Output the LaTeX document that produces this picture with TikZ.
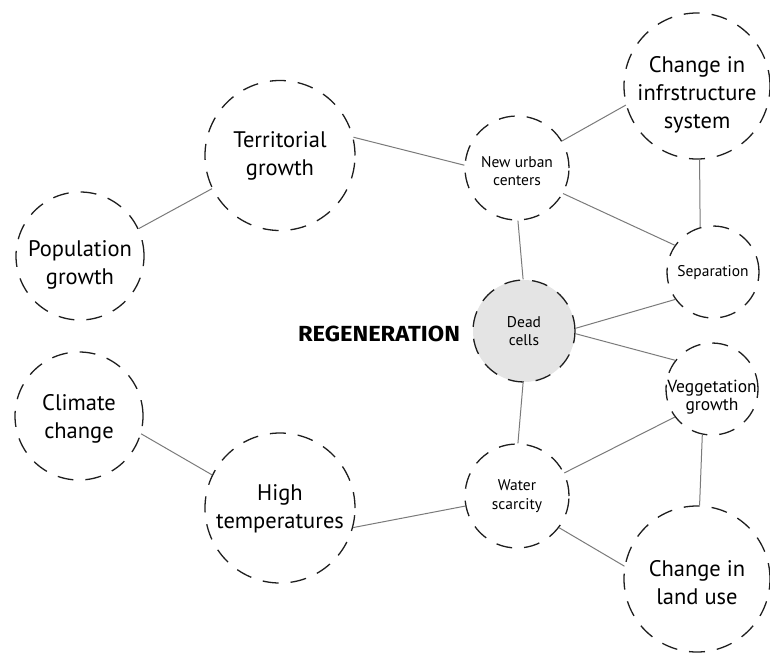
\documentclass[tikz,border=0pt]{standalone}
\usepackage{fontspec}
\setmainfont{PT Sans}
\newfontfamily\regfont{Fira Sans}
\definecolor{ring}{HTML}{1E1E1E}
\definecolor{conn}{HTML}{7A7A7A}
\definecolor{deadfill}{HTML}{E4E4E4}
\begin{document}
\begin{tikzpicture}[x=1pt,y=-1pt,
  ringbase/.style={circle,draw=ring,line width=1.3pt,dash pattern=on 16pt off 12pt,inner sep=0pt},
  bigc/.style={ringbase,minimum size=150pt},
  medc/.style={ringbase,minimum size=128pt},
  smallc/.style={ringbase,minimum size=104pt},
  tinyc/.style={ringbase,minimum size=92pt},
  deadc/.style={smallc,fill=deadfill,minimum size=102pt},
  bigt/.style={align=center,inner sep=0pt,font=\fontsize{22.5}{28}\selectfont},
  smallt/.style={align=center,inner sep=0pt,font=\fontsize{15.5}{18.5}\selectfont},
  link/.style={draw=conn,line width=1pt}]
\useasboundingbox (0,0) rectangle (770,656);
\node[bigc,label={[bigt]center:Territorial\\growth}] (terr) at (280,155.5) {};
\node[medc,label={[bigt,yshift=-9pt]center:Population\\growth}] (pop) at (80,256) {};
\node[smallc,label={[smallt,yshift=-3pt]center:New urban\\centers}] (nuc) at (517,168) {};
\node[bigc,minimum size=146pt,label={[bigt,yshift=-9pt]center:Change in\\infrstructure\\system}] (inf) at (697,86) {};
\node[tinyc,label={[smallt,yshift=-1pt]center:Separation}] (sep) at (713,272) {};
\node[deadc,label={[smallt]center:Dead\\cells}] (dead) at (524,331) {};
\node[tinyc,label={[smallt,font=\fontsize{17.5}{18}\selectfont,yshift=-8pt]center:Veggetation\\growth}] (veg) at (712,389) {};
\node[smallc,label={[smallt]center:Water\\scarcity}] (wat) at (517,496) {};
\node[bigc,minimum size=146pt,label={[bigt,yshift=-4pt]center:Change in\\land use}] (land) at (697,579) {};
\node[bigc,label={[bigt,yshift=-1pt]center:High\\temperatures}] (high) at (280,508) {};
\node[medc,label={[bigt,yshift=-3pt]center:Climate\\change}] (clim) at (79,416) {};
\node[inner sep=0pt] (regen) at (379,334) {\resizebox{162pt}{15.5pt}{\regfont\bfseries REGENERATION}};
\path[link] (pop.25) -- (terr.206);
\path[link] (terr.14) -- (nuc.177);
\path[link] (nuc.31) -- (inf.195);
\path[link] (nuc.331) -- (sep.145);
\path[link] (nuc.271) -- (dead.91);
\path[link] (inf.272) -- (sep.106);
\path[link] (sep.216) -- (dead.3);
\path[link] (dead.357) -- (veg.142);
\path[link] (dead.269) -- (wat.89);
\path[link] (wat.26) -- (veg.217);
\path[link] (veg.258) -- (land.88);
\path[link] (wat.323) -- (land.170);
\path[link] (high.345) -- (wat.191);
\path[link] (clim.344) -- (high.154);
\end{tikzpicture}
\end{document}
